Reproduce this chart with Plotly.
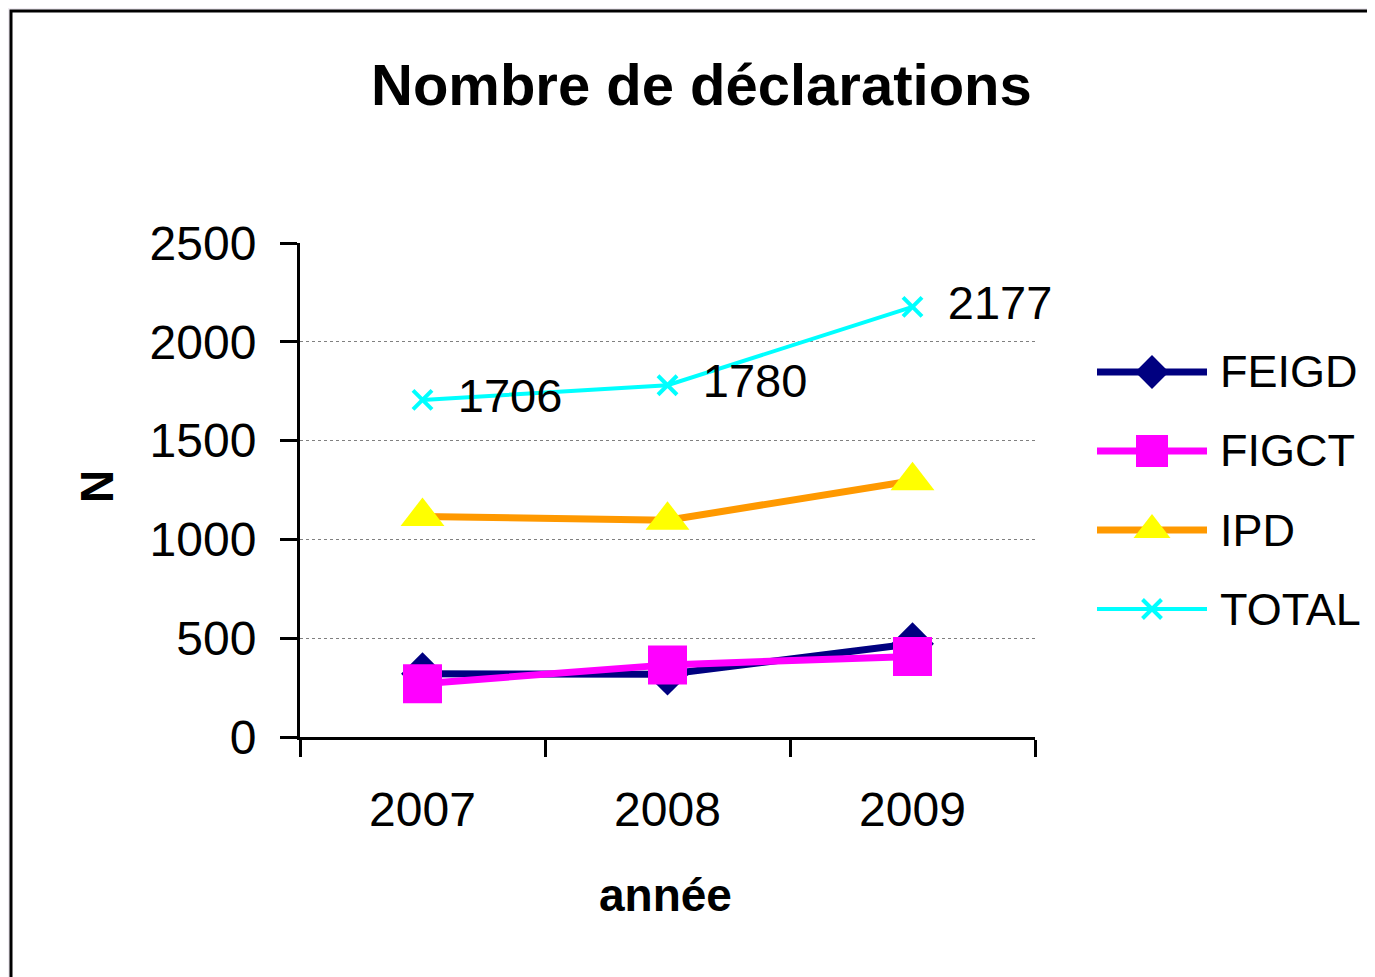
import plotly.graph_objects as go

years = ["2007", "2008", "2009"]
feigd = [320, 318, 472]
figct = [270, 365, 408]
ipd = [1116, 1097, 1297]
total = [1706, 1780, 2177]
series_names = ["FEIGD", "FIGCT", "IPD", "TOTAL"]

OFF = 8  # default page body margin
W, H = 1375 - OFF, 977 - OFF
L, R, T, B = 300, 1035, 243, 737  # plot area in reference pixel coordinates

def fx(x):
    return (x - OFF) / W

def fy(y):
    return 1 - (y - OFF) / H

FONT = "Liberation Sans, Arial, sans-serif"

styles = [
    dict(line=dict(color="#000080", width=7),
         marker=dict(symbol="diamond", size=33, color="#000080"),
         lmarker=dict(symbol="diamond", size=26, color="#000080")),
    dict(line=dict(color="#FF00FF", width=7),
         marker=dict(symbol="square", size=39, color="#FF00FF"),
         lmarker=dict(symbol="square", size=32, color="#FF00FF")),
    dict(line=dict(color="#FF9900", width=7),
         marker=dict(symbol="triangle-up", size=38, color="#FFFF00"),
         lmarker=dict(symbol="triangle-up", size=32, color="#FFFF00")),
    dict(line=dict(color="#00FFFF", width=4),
         marker=dict(symbol="x-thin", size=19, line=dict(color="#00FFFF", width=4)),
         lmarker=dict(symbol="x-thin", size=19, line=dict(color="#00FFFF", width=4))),
]
values = [feigd, figct, ipd, total]

fig = go.Figure()
for name, vals, st in zip(series_names, values, styles):
    if name == "TOTAL":
        kw = dict(mode="lines+markers+text",
                  text=[" \u2009" + str(v) for v in vals], textposition="middle right",
                  textfont=dict(family=FONT, size=47, color="black"),
                  cliponaxis=False)
    else:
        kw = dict(mode="lines+markers")
    fig.add_trace(go.Scatter(x=years, y=vals, name=name, line=st["line"],
                             marker=st["marker"], showlegend=False, **kw))

# manual legend drawn on an auxiliary axis
for i, (name, st) in enumerate(zip(series_names, styles)):
    fig.add_trace(go.Scatter(x=[0, 1], y=[i, i], mode="lines", line=st["line"],
                             xaxis="x2", yaxis="y2", showlegend=False, hoverinfo="skip"))
    fig.add_trace(go.Scatter(x=[0.5], y=[i], mode="markers", marker=st["lmarker"],
                             xaxis="x2", yaxis="y2", showlegend=False, hoverinfo="skip",
                             cliponaxis=False))

annotations = [
    dict(text="<b>Nombre de déclarations</b>", xref="paper", yref="paper",
         x=fx(701), y=fy(85), showarrow=False, xanchor="center", yanchor="middle",
         font=dict(family=FONT, size=58, color="black")),
    dict(text="<b>N</b>", xref="paper", yref="paper", x=fx(97), y=fy(487),
         textangle=-90, showarrow=False, xanchor="center", yanchor="middle",
         font=dict(family=FONT, size=46, color="black")),
    dict(text="<b>année</b>", xref="paper", yref="paper", x=fx(665), y=fy(895),
         showarrow=False, xanchor="center", yanchor="middle",
         font=dict(family=FONT, size=46, color="black")),
]
for i, name in enumerate(series_names):
    annotations.append(dict(text=name, xref="paper", yref="y2", x=fx(1218), y=i,
                            showarrow=False, xanchor="left", yanchor="middle",
                            font=dict(family=FONT, size=45, color="black")))

fig.update_layout(
    width=W, height=H,
    margin=dict(l=0, r=0, t=0, b=0, pad=0, autoexpand=False),
    paper_bgcolor="#f0ecf2",
    plot_bgcolor="white",
    font=dict(family=FONT, color="black"),
    showlegend=False,
    shapes=[
        dict(type="rect", xref="paper", yref="paper", layer="below",
             x0=fx(11), x1=fx(1400), y0=fy(11), y1=fy(1010),
             fillcolor="white", line=dict(color="black", width=3)),
    ],
    annotations=annotations,
    xaxis=dict(
        domain=[fx(L), fx(R)],
        type="category", range=[-0.5, 2.5],
        showline=True, linecolor="black", linewidth=3,
        ticks="outside", tickson="boundaries", ticklen=17, tickwidth=3, tickcolor="black",
        tickfont=dict(family=FONT, size=48, color="black"),
        ticklabelstandoff=28, automargin=False,
        showgrid=False, zeroline=False,
    ),
    yaxis=dict(
        domain=[fy(B), fy(T)],
        range=[0, 2500], tickvals=[0, 500, 1000, 1500, 2000, 2500],
        showline=True, linecolor="black", linewidth=3,
        ticks="outside", ticklen=17, tickwidth=3, tickcolor="black",
        tickfont=dict(family=FONT, size=48, color="black"),
        ticklabelstandoff=14, automargin=False,
        showgrid=True, gridcolor="#808080", gridwidth=1, griddash="dot",
        zeroline=False,
    ),
    xaxis2=dict(domain=[fx(1097), fx(1207)], range=[0, 1], visible=False,
                anchor="y2", fixedrange=True),
    yaxis2=dict(domain=[fy(648.5), fy(332.5)], range=[3.5, -0.5], visible=False,
                anchor="x2", fixedrange=True),
)

fig.write_html("out.html")
